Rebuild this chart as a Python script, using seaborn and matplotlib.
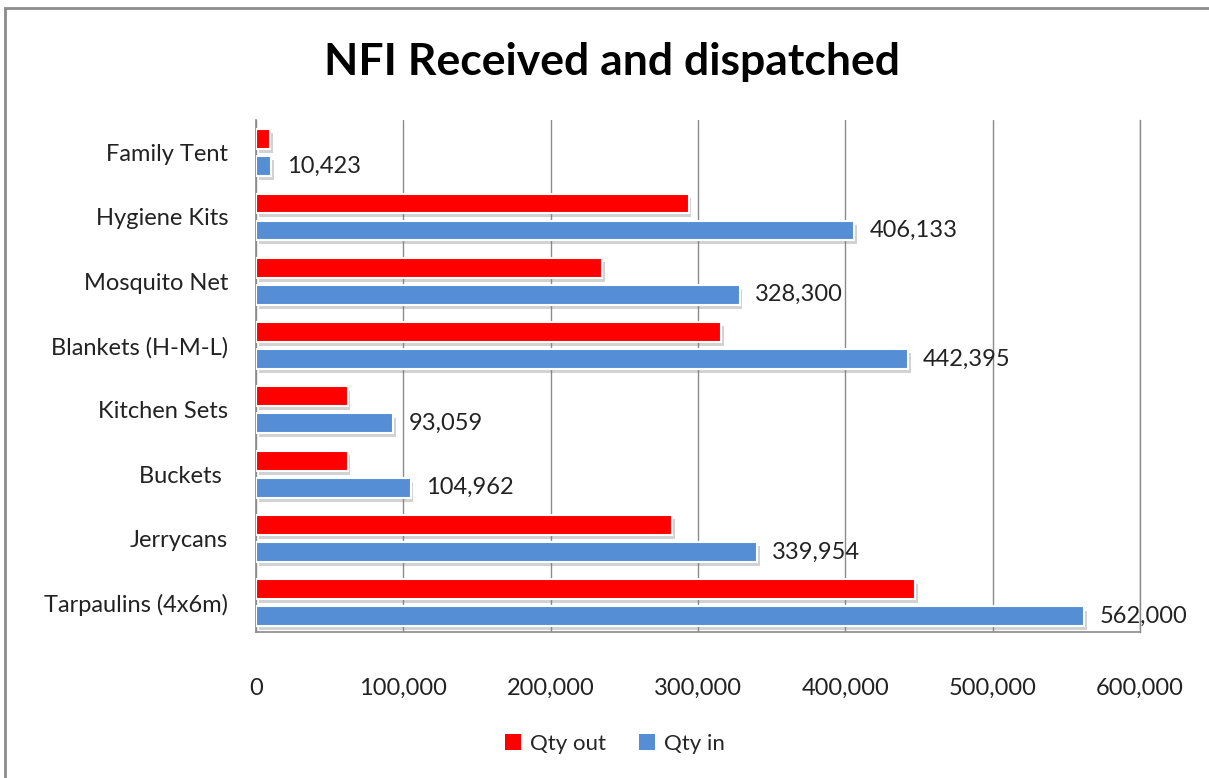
import matplotlib
matplotlib.use("Agg")
import matplotlib.pyplot as plt
import matplotlib.patheffects as pe
from matplotlib.patches import Patch, Rectangle
from matplotlib.ticker import FuncFormatter
import pandas as pd
import seaborn as sns

# --- data ---
categories = ["Family Tent", "Hygiene Kits", "Mosquito Net", "Blankets (H-M-L)",
              "Kitchen Sets", "Buckets ", "Jerrycans", "Tarpaulins (4x6m)"]
qty_out = [9500, 293700, 234700, 315700, 62200, 62200, 282200, 447500]
qty_in = [10423, 406133, 328300, 442395, 93059, 104962, 339954, 562000]
series = ["Qty out", "Qty in"]
x_ticks = [0, 100000, 200000, 300000, 400000, 500000, 600000]

colors = {"Qty out": "#ff0000", "Qty in": "#558ed5"}

df = pd.DataFrame({
    "category": categories * 2,
    "series": ["Qty out"] * len(categories) + ["Qty in"] * len(categories),
    "value": qty_out + qty_in,
})

sns.set_theme(style="white")
plt.rcParams["font.family"] = ["Lato", "DejaVu Sans"]

fig = plt.figure(figsize=(12.09, 7.78), dpi=100)
fig.patch.set_facecolor("white")
ax = fig.add_axes([256 / 1209, 1 - 632 / 778, (1140 - 256) / 1209, (632 - 120) / 778])

sns.barplot(data=df, y="category", x="value", hue="series", hue_order=series,
            order=categories, palette=colors, saturation=1, orient="h",
            width=0.84, gap=0.27, edgecolor="white", linewidth=1.5,
            ax=ax, legend=False, zorder=3)

shadow = [pe.SimplePatchShadow(offset=(2, -3), shadow_rgbFace=(0.5, 0.5, 0.5), alpha=0.35),
          pe.Normal()]
for patch in ax.patches:
    patch.set_path_effects(shadow)

# value labels on the "Qty in" bars
in_container = ax.containers[1]
ax.bar_label(in_container, labels=[f"{v:,}" for v in qty_in], padding=11,
             fontsize=17, color="#222222")

ax.set_xlim(0, 600000)
ax.set_ylim(7.455, -0.508)
ax.set_xticks(x_ticks)
ax.xaxis.set_major_formatter(FuncFormatter(lambda v, _: f"{int(v):,}"))
ax.set_xlabel("")
ax.set_ylabel("")
ax.grid(axis="x", color="#8a8a8a", linewidth=1, zorder=0)
ax.grid(axis="y", visible=False)
ax.set_axisbelow(True)

ax.tick_params(axis="x", length=0, pad=33, labelsize=17, labelcolor="#222222")
ax.tick_params(axis="y", length=0, pad=20, labelsize=17, labelcolor="#222222")

ax.spines["top"].set_visible(False)
for side in ["left", "bottom", "right"]:
    ax.spines[side].set_color("#8a8a8a")
    ax.spines[side].set_linewidth(1.2)
ax.spines["right"].set_linewidth(1)

fig.text(612 / 1209, 1 - 62 / 778, "NFI Received and dispatched", ha="center", va="center",
         fontsize=32, fontweight="bold", color="black")

handles = [Patch(facecolor=colors[s], edgecolor="none", label=s) for s in series]
fig.legend(handles=handles, loc="center", bbox_to_anchor=(615 / 1209, 1 - 744 / 778),
           ncol=2, frameon=False, fontsize=16, handlelength=0.7, handleheight=0.7,
           handletextpad=0.4, columnspacing=1.5)

# outer chart frame
fig.patches.append(Rectangle((5 / 1209, -0.05), 1.1, 1 - 8 / 778 + 0.05,
                             transform=fig.transFigure, fill=False,
                             edgecolor="#8c8c8c", linewidth=2))

fig.savefig("out.png", dpi=100)
